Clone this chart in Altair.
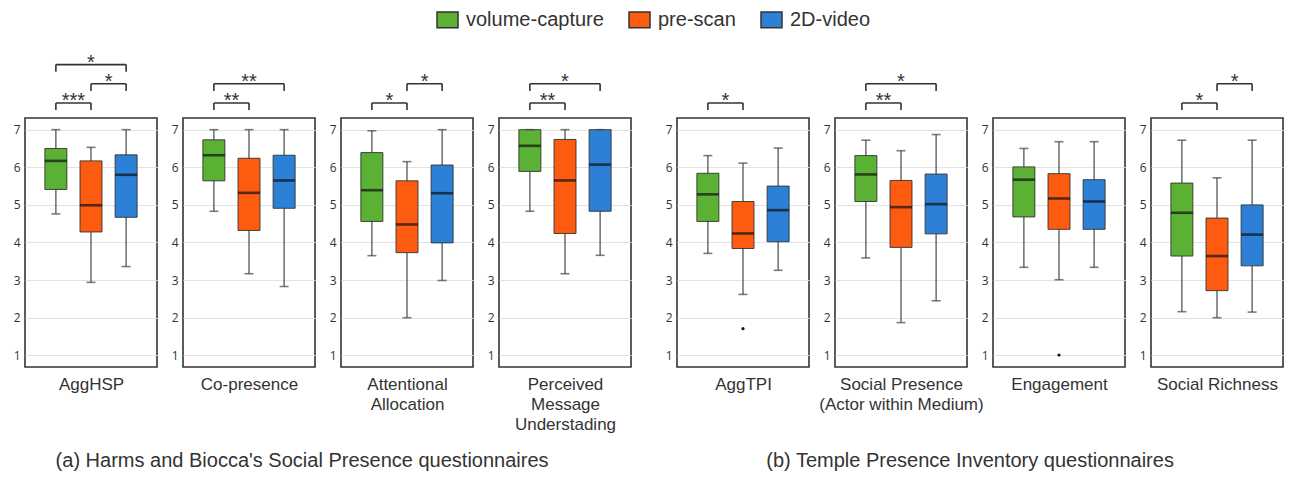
import altair as alt
import pandas as pd

conditions = ["volume-capture", "pre-scan", "2D-video"]
palette = ["#5ab134", "#fd5b10", "#2c80d5"]

panel_titles = [["AggHSP"], ["Co-presence"], ["Attentional", "Allocation"],
                ["Perceived", "Message", "Understading"],
                ["AggTPI"], ["Social Presence", "(Actor within Medium)"],
                ["Engagement"], ["Social Richness"]]

# per panel values: [volume-capture, pre-scan, 2D-video]
whisker_low = [[4.76, 2.94, 3.36], [4.83, 3.17, 2.83], [3.65, 2.00, 2.99], [4.83, 3.17, 3.66],
               [3.71, 2.62, 3.26], [3.59, 1.87, 2.45], [3.34, 3.01, 3.34], [2.16, 2.00, 2.15]]
q1 = [[5.41, 4.28, 4.67], [5.64, 4.32, 4.91], [4.56, 3.73, 3.99], [5.89, 4.24, 4.83],
      [4.56, 3.84, 4.02], [5.09, 3.87, 4.23], [4.68, 4.35, 4.35], [3.64, 2.72, 3.38]]
median = [[6.17, 4.99, 5.80], [6.32, 5.32, 5.65], [5.39, 4.48, 5.31], [6.57, 5.65, 6.07],
          [5.28, 4.24, 4.86], [5.81, 4.94, 5.02], [5.67, 5.17, 5.09], [4.79, 3.64, 4.21]]
q3 = [[6.50, 6.17, 6.33], [6.73, 6.24, 6.32], [6.39, 5.64, 6.06], [7.00, 6.74, 7.00],
      [5.84, 5.09, 5.50], [6.31, 5.65, 5.82], [6.01, 5.83, 5.67], [5.58, 4.65, 5.00]]
whisker_high = [[7.00, 6.53, 7.00], [7.00, 7.00, 7.00], [6.97, 6.15, 7.00], [7.00, 7.00, 7.00],
                [6.31, 6.11, 6.51], [6.72, 6.44, 6.87], [6.50, 6.68, 6.68], [6.72, 5.72, 6.72]]

outlier_panel = [4, 6]
outlier_condition = ["pre-scan", "pre-scan"]
outlier_value = [1.71, 1.01]

# significance brackets
sig_panel = [0, 0, 0, 1, 1, 2, 2, 3, 3, 4, 5, 5, 7, 7]
sig_from = ["volume-capture", "pre-scan", "volume-capture",
            "volume-capture", "volume-capture",
            "volume-capture", "pre-scan",
            "volume-capture", "volume-capture",
            "volume-capture",
            "volume-capture", "volume-capture",
            "volume-capture", "pre-scan"]
sig_to = ["pre-scan", "2D-video", "2D-video",
          "pre-scan", "2D-video",
          "pre-scan", "2D-video",
          "pre-scan", "2D-video",
          "pre-scan",
          "pre-scan", "2D-video",
          "pre-scan", "2D-video"]
sig_level = [0, 1, 2, 0, 1, 0, 1, 0, 1, 0, 0, 1, 0, 1]
sig_label = ["***", "*", "*", "**", "**", "*", "*", "**", "*", "*", "**", "*", "*", "*"]

captions = ["(a) Harms and Biocca's Social Presence questionnaires",
            "(b) Temple Presence Inventory questionnaires"]

# ---- tables built from the arrays ----
idx = {c: k for k, c in enumerate(conditions)}
rows = []
for p in range(len(panel_titles)):
    for k, c in enumerate(conditions):
        rows.append(dict(panel=p, condition=c, pos=k, low=whisker_low[p][k], q1=q1[p][k],
                         med=median[p][k], q3=q3[p][k], high=whisker_high[p][k]))
box_df = pd.DataFrame(rows)
out_df = pd.DataFrame(dict(panel=outlier_panel, condition=outlier_condition, value=outlier_value))
out_df["pos"] = out_df["condition"].map(idx)
sig_df = pd.DataFrame(dict(panel=sig_panel, a=sig_from, b=sig_to, level=sig_level, label=sig_label))
sig_df["xa"] = sig_df["a"].map(idx)
sig_df["xb"] = sig_df["b"].map(idx)

FONT = "Liberation Sans"
W, H = 132, 249
xscale = alt.Scale(domain=[-0.737, 2.737], nice=False, zero=False)
yscale = alt.Scale(domain=[0.69, 7.31], nice=False, zero=False)
yaxis = alt.Axis(values=[1, 2, 3, 4, 5, 6, 7], title=None, domain=False, ticks=False,
                 labelFontSize=12, labelColor="#333", labelFont="Open Sans", labelPadding=5,
                 grid=True, gridColor="#e2e2e2", gridWidth=1)


def Y(field):
    return alt.Y(field, scale=yscale, axis=yaxis)


def panel(p):
    xaxis = alt.Axis(title=panel_titles[p], labels=False, ticks=False, domain=False, grid=False,
                     titleFontSize=17, titleFontWeight="normal", titleFont=FONT,
                     titleColor="#333", titlePadding=9, titleLineHeight=20)

    def X(field):
        return alt.X(field, scale=xscale, axis=xaxis)

    base = alt.Chart(box_df[box_df.panel == p])
    whisk = base.mark_rule(color="#555", strokeWidth=1.3).encode(x=X("pos:Q"), y=Y("low:Q"), y2="high:Q")
    caps_lo = base.mark_tick(orient="horizontal", size=9, thickness=1.6, color="#444").encode(
        x=X("pos:Q"), y=Y("low:Q"))
    caps_hi = base.mark_tick(orient="horizontal", size=9, thickness=1.6, color="#444").encode(
        x=X("pos:Q"), y=Y("high:Q"))
    box = base.mark_bar(size=22, stroke="#333", strokeWidth=0.9).encode(
        x=X("pos:Q"), y=Y("q1:Q"), y2="q3:Q",
        color=alt.Color("condition:N", scale=alt.Scale(domain=conditions, range=palette),
                        sort=conditions,
                        legend=alt.Legend(title=None, orient="none", direction="horizontal",
                                          legendX=411, legendY=-110)))
    med = base.mark_tick(orient="horizontal", size=22, thickness=2.6, color="#111").encode(
        x=X("pos:Q"), y=Y("med:Q"))
    layers = [whisk, box, caps_lo, caps_hi, med]

    o = out_df[out_df.panel == p]
    if len(o):
        layers.append(alt.Chart(o).mark_circle(size=10, color="#111", opacity=1).encode(
            x=X("pos:Q"), y=Y("value:Q")))

    s = sig_df[sig_df.panel == p]
    if len(s):
        sb = alt.Chart(s).transform_calculate(
            ly="7.71 + 0.51 * datum.level", ll="7.52 + 0.51 * datum.level",
            mid="(datum.xa + datum.xb) / 2")
        layers.append(sb.mark_rule(color="#333", strokeWidth=1.6).encode(
            x=X("xa:Q"), x2="xb:Q", y=Y("ly:Q")))
        layers.append(sb.mark_rule(color="#333", strokeWidth=1.6).encode(
            x=X("xa:Q"), y=Y("ly:Q"), y2="ll:Q"))
        layers.append(sb.mark_rule(color="#333", strokeWidth=1.6).encode(
            x=X("xb:Q"), y=Y("ly:Q"), y2="ll:Q"))
        layers.append(sb.mark_text(fontSize=20, font=FONT, color="#333", baseline="alphabetic",
                                   dy=4).encode(x=X("mid:Q"), y=Y("ly:Q"), text="label:N"))
    return alt.layer(*layers).properties(width=W, height=H)


group_a = alt.hconcat(*[panel(p) for p in range(4)], spacing=26, bounds="flush").properties(
    title=alt.TitleParams(captions[0], orient="bottom", fontSize=20, fontWeight="normal",
                          font=FONT, color="#333", offset=18, dx=-20, anchor="middle"))
group_b = alt.hconcat(*[panel(p) for p in range(4, 8)], spacing=26, bounds="flush").properties(
    title=alt.TitleParams(captions[1], orient="bottom", fontSize=20, fontWeight="normal",
                          font=FONT, color="#333", offset=38, dx=-4, anchor="middle"))

chart = alt.hconcat(group_a, group_b, spacing=32).resolve_scale(
    color="shared").properties(
    padding={"left": 4, "top": 0, "right": 0, "bottom": 0}
).configure_view(stroke="#333", strokeWidth=1.6).configure_legend(
    labelFontSize=20, labelFont=FONT, labelColor="#333", labelOffset=7,
    symbolType="M-1,-0.75H1V0.75H-1Z", symbolSize=441, symbolStrokeColor="#333",
    symbolStrokeWidth=1.5, symbolOpacity=1, columnPadding=22, padding=0
)

chart.save("out.html", embed_options={"renderer": "svg", "actions": False})
